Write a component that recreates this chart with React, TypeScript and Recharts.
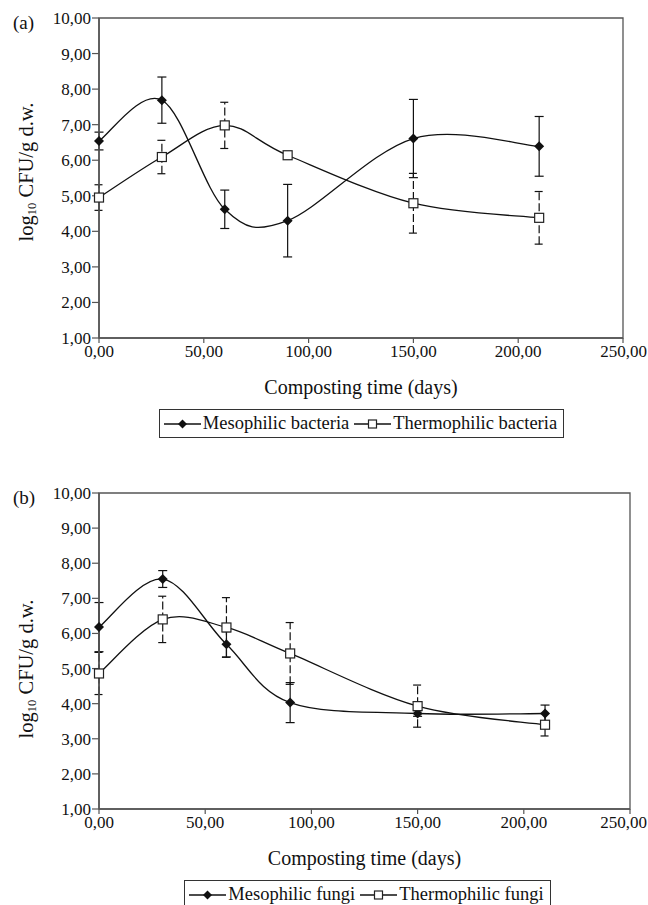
import React from "react";
import { LineChart, Line, XAxis, YAxis, ErrorBar, Legend, ReferenceArea } from "recharts";

const days = [0, 30, 60, 90, 150, 210];
const xTicks = [0, 50, 100, 150, 200, 250];
const yTicks = [1, 2, 3, 4, 5, 6, 7, 8, 9, 10];

// panel (a)
const mesoBacteria = [6.54, 7.69, 4.62, 4.3, 6.61, 6.39];
const mesoBacteriaErr = [0.25, 0.65, 0.54, 1.02, 1.1, 0.84];
const thermoBacteria = [4.95, 6.09, 6.98, 6.14, 4.79, 4.38];
const thermoBacteriaErr = [0.36, 0.47, 0.65, 0.05, 0.84, 0.74];

// panel (b)
const mesoFungi = [6.18, 7.55, 5.69, 4.03, 3.72, 3.72];
const mesoFungiErr = [0.7, 0.24, 0.36, 0.57, 0.08, 0.24];
const thermoFungi = [4.86, 6.4, 6.17, 5.43, 3.93, 3.4];
const thermoFungiErr = [0.6, 0.66, 0.85, 0.88, 0.6, 0.32];

const FONT = "'Liberation Serif', 'DejaVu Serif', serif";
const INK = "#111";
const AXIS = "#555";

const fmt = (v: number) => v.toFixed(2).replace(".", ",");

// smoothed line like the spreadsheet one (catmull-rom style bezier)
const smoothCurve = (context: any) => {
  let pts: number[][] = [];
  return {
    areaStart() {},
    areaEnd() {},
    lineStart() {
      pts = [];
    },
    point(x: number, y: number) {
      pts.push([+x, +y]);
    },
    lineEnd() {
      if (!pts.length) return;
      context.moveTo(pts[0][0], pts[0][1]);
      for (let i = 0; i < pts.length - 1; i++) {
        const p0 = pts[Math.max(i - 1, 0)];
        const p1 = pts[i];
        const p2 = pts[i + 1];
        const p3 = pts[Math.min(i + 2, pts.length - 1)];
        context.bezierCurveTo(
          p1[0] + (p2[0] - p0[0]) / 6,
          p1[1] + (p2[1] - p0[1]) / 6,
          p2[0] - (p3[0] - p1[0]) / 6,
          p2[1] - (p3[1] - p1[1]) / 6,
          p2[0],
          p2[1]
        );
      }
    },
  };
};

const diamondDot = (p: any) => {
  const { cx, cy, index } = p;
  const r = 5;
  return (
    <path
      key={`d-${index}`}
      d={`M${cx},${cy - r}L${cx + r},${cy}L${cx},${cy + r}L${cx - r},${cy}Z`}
      fill={INK}
    />
  );
};

const squareDot = (p: any) => {
  const { cx, cy, index } = p;
  return (
    <rect
      key={`s-${index}`}
      x={cx - 4.5}
      y={cy - 4.5}
      width={9}
      height={9}
      fill="#fff"
      stroke="#222"
      strokeWidth={1.2}
    />
  );
};

// x tick: keep the last label inside the page
const XTick = (props: any) => {
  const { x, y, payload } = props;
  const label = fmt(payload.value);
  const half = label.length * 4.1;
  const nearEdge = x + half > 646;
  return (
    <text
      x={nearEdge ? 647 : x}
      y={y}
      dy="0.71em"
      textAnchor={nearEdge ? "end" : "middle"}
      fontFamily={FONT}
      fontSize={17}
      fill={INK}
    >
      {label}
    </text>
  );
};

const XTitle = (props: any) => {
  const vb = props.viewBox || {};
  return (
    <text
      x={vb.x + vb.width / 2}
      y={vb.y + 56}
      textAnchor="middle"
      fontFamily={FONT}
      fontSize={20}
      fill={INK}
    >
      Composting time (days)
    </text>
  );
};

const YTitle = ({ tag, cy, tagY }: any) => (
  <g>
    <text x={13} y={tagY} fontFamily={FONT} fontSize={19} fill={INK}>
      {tag}
    </text>
    <text
      transform={`translate(33,${cy}) rotate(-90)`}
      textAnchor="middle"
      fontFamily={FONT}
      fontSize={20.5}
      fill={INK}
    >
      log
      <tspan fontSize={12.5} dy={3}>
        10
      </tspan>
      <tspan dy={-3}> CFU/g d.w.</tspan>
    </text>
  </g>
);

const Sample = ({ kind }: { kind: string }) => (
  <svg width={37} height={14} style={{ display: "block" }}>
    <line x1={0} y1={7} x2={37} y2={7} stroke={INK} strokeWidth={1.3} />
    {kind === "diamond" ? (
      <path d="M18.5,2.5L23,7L18.5,11.5L14,7Z" fill={INK} />
    ) : (
      <rect x={14.5} y={3} width={8} height={8} fill="#fff" stroke="#222" strokeWidth={1.2} />
    )}
  </svg>
);

const LegendBox = ({ names, padLeft }: any) => (
  <div style={{ display: "flex", justifyContent: "center", paddingLeft: padLeft }}>
    <div
      style={{
        display: "flex",
        alignItems: "center",
        height: 29,
        boxSizing: "border-box",
        border: "1.5px solid #333",
        padding: "0 6px 0 4px",
        fontFamily: FONT,
        fontSize: 18.5,
        color: INK,
        whiteSpace: "nowrap",
        gap: 2,
      }}
    >
      <Sample kind="diamond" />
      <span style={{ marginRight: 3 }}>{names[0]}</span>
      <Sample kind="square" />
      <span>{names[1]}</span>
    </div>
  </div>
);

type PanelProps = {
  tag: string;
  height: number;
  margin: { top: number; right: number; bottom: number; left: number };
  meso: number[];
  mesoErr: number[];
  thermo: number[];
  thermoErr: number[];
  names: string[];
  titleY: number;
  tagY: number;
  legendPad: number;
};

function Panel(p: PanelProps) {
  const data = days.map((d, i) => ({
    day: d,
    meso: p.meso[i],
    mesoErr: p.mesoErr[i],
    thermo: p.thermo[i],
    thermoErr: p.thermoErr[i],
  }));

  return (
    <LineChart width={648} height={p.height} data={data} margin={p.margin}>
      <ReferenceArea x1={0} x2={250} y1={1} y2={10} fill="none" stroke={AXIS} strokeWidth={1.3} />
      <XAxis
        dataKey="day"
        type="number"
        domain={[0, 250]}
        ticks={xTicks}
        interval={0}
        tickFormatter={fmt}
        height={71}
        tickSize={5}
        tickMargin={2}
        axisLine={{ stroke: AXIS, strokeWidth: 1.6 }}
        tickLine={{ stroke: AXIS, strokeWidth: 1.2 }}
        tick={<XTick />}
        label={<XTitle />}
      />
      <YAxis
        type="number"
        domain={[1, 10]}
        ticks={yTicks}
        interval={0}
        tickFormatter={fmt}
        width={60}
        tickSize={7}
        tickMargin={1}
        axisLine={{ stroke: AXIS, strokeWidth: 1.6 }}
        tickLine={{ stroke: AXIS, strokeWidth: 1.2 }}
        tick={{ fill: INK, fontSize: 17, fontFamily: FONT }}
        label={<YTitle tag={p.tag} cy={p.titleY} tagY={p.tagY} />}
      />
      <Legend
        verticalAlign="bottom"
        wrapperStyle={{ left: 0, width: 648 }}
        content={<LegendBox names={p.names} padLeft={p.legendPad} />}
      />
      <Line
        dataKey="meso"
        name={p.names[0]}
        type={smoothCurve as any}
        stroke={INK}
        strokeWidth={1.3}
        dot={diamondDot}
        activeDot={false}
        isAnimationActive={false}
      >
        <ErrorBar dataKey="mesoErr" direction="y" width={4.5} stroke={INK} strokeWidth={1.2} isAnimationActive={false} />
      </Line>
      <Line
        dataKey="thermo"
        name={p.names[1]}
        type={smoothCurve as any}
        stroke={INK}
        strokeWidth={1.3}
        dot={squareDot}
        activeDot={false}
        isAnimationActive={false}
      >
        <ErrorBar
          dataKey="thermoErr"
          direction="y"
          width={4.5}
          stroke={INK}
          strokeWidth={1.2}
          strokeDasharray="8 3"
          isAnimationActive={false}
        />
      </Line>
    </LineChart>
  );
}

export default function App() {
  return (
    <div
      style={{
        position: "absolute",
        left: 0,
        top: 0,
        width: 648,
        height: 905,
        overflow: "hidden",
        background: "#fff",
      }}
    >
      <div style={{ position: "absolute", left: 0, top: 0 }}>
        <Panel
          tag="(a)"
          height={445}
          margin={{ top: 18, right: 25, bottom: 7, left: 39 }}
          meso={mesoBacteria}
          mesoErr={mesoBacteriaErr}
          thermo={thermoBacteria}
          thermoErr={thermoBacteriaErr}
          names={["Mesophilic bacteria", "Thermophilic bacteria"]}
          titleY={172}
          tagY={29}
          legendPad={75}
        />
      </div>
      <div style={{ position: "absolute", left: 0, top: 445 }}>
        <Panel
          tag="(b)"
          height={475}
          margin={{ top: 48, right: 18, bottom: 11, left: 39 }}
          meso={mesoFungi}
          mesoErr={mesoFungiErr}
          thermo={thermoFungi}
          thermoErr={thermoFungiErr}
          names={["Mesophilic fungi", "Thermophilic fungi"]}
          titleY={224}
          tagY={59}
          legendPad={87}
        />
      </div>
    </div>
  );
}
